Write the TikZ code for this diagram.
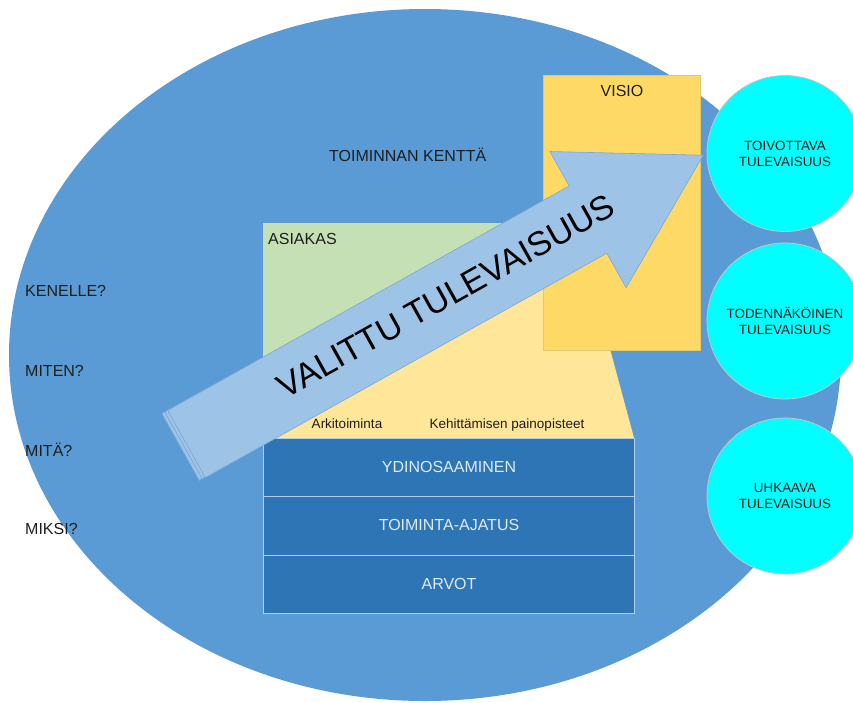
\documentclass[tikz,border=0pt]{standalone}
\usepackage{fontspec}
\setmainfont{Liberation Sans}
\definecolor{fieldblue}{HTML}{5B9BD5}
\definecolor{asiakasgreen}{HTML}{C5E0B4}
\definecolor{lightyel}{HTML}{FFE699}
\definecolor{visioyel}{HTML}{FFD966}
\definecolor{blockblue}{HTML}{2E75B6}
\definecolor{arrowblue}{HTML}{9DC3E6}
\definecolor{arrowedge}{HTML}{7AA6D6}
\definecolor{futurecyan}{HTML}{00FFFF}
\definecolor{darktext}{HTML}{1E1E1E}
\definecolor{blocktext}{HTML}{DDEBF7}
\begin{document}
\begin{tikzpicture}[x=1pt,y=-1pt,
  lbl/.style={font=\fontsize{16}{19}\selectfont, text=darktext, inner sep=0pt},
  smalllbl/.style={font=\fontsize{13.5}{16}\selectfont, text=darktext, inner sep=0pt},
  blocklbl/.style={font=\fontsize{16}{19}\selectfont, text=blocktext, inner sep=0pt, anchor=base},
  futurecircle/.style={circle, fill=futurecyan, draw=gray!45, line width=0.8pt,
     minimum size=156pt, inner sep=0pt, align=center,
     font=\fontsize{13.4}{16}\selectfont, text=darktext},
  blockrow/.style={fill=blockblue, draw=arrowblue!80, line width=1pt},
  arrowshape/.style={fill=arrowblue, draw=arrowedge, line width=0.6pt, line join=miter}
]
\useasboundingbox (0,0) rectangle (853,702);

% field ellipse
\fill[fieldblue] (425,355) ellipse [x radius=416, y radius=346];
\node[lbl, anchor=base west] (field) at (329,161) {TOIMINNAN KENTTÄ};

% left questions
\node[lbl, anchor=base west] (q1) at (25,296) {KENELLE?};
\node[lbl, anchor=base west] (q2) at (25,376) {MITEN?};
\node[lbl, anchor=base west] (q3) at (25,456) {MITÄ?};
\node[lbl, anchor=base west] (q4) at (25,534) {MIKSI?};

% light yellow trapezoid
\fill[lightyel] (263,223) -- (576,223) -- (634,438) -- (263,438) -- cycle;
% asiakas (lower edge hidden under the arrow)
\fill[asiakasgreen] (263,223) -- (502,223) -- (502,250) -- (263,400) -- cycle;
\node[lbl, anchor=base west] (asiakas) at (268,244) {ASIAKAS};

% visio
\fill[visioyel, draw=visioyel!80!gray, line width=0.5pt] (543,75) rectangle (700,350);
\node[lbl, anchor=base] (visio) at (622,96) {VISIO};

% bottom blocks
\draw[blockrow] (263,438) rectangle (634,496);
\draw[blockrow] (263,496) rectangle (634,555);
\draw[blockrow] (263,555) rectangle (634,613);
\node[blocklbl] (ydin) at (449,472) {YDINOSAAMINEN};
\node[blocklbl] (toim) at (449,530) {TOIMINTA-AJATUS};
\node[blocklbl] (arvot) at (449,589) {ARVOT};

% small labels
\node[smalllbl, anchor=base] (arki) at (347,428) {Arkitoiminta};
\node[smalllbl, anchor=base] (kehit) at (507,428) {Kehittämisen painopisteet};

% arrow: stacked tail copies
\foreach \s in {2,1}{
  \draw[arrowshape, shift={(-2.9*\s,1.6*\s)}]
    (167.7,410.4) -- (211.3,386.0) -- (249.0,421.2) -- (205.3,477.6) -- cycle;
}
% main arrow
\draw[arrowshape] (167.7,410.4) -- (569.2,186.0) -- (549.9,151.5) -- (703.3,155.2)
   -- (626.1,287.7) -- (606.8,253.2) -- (205.3,477.6) -- cycle;
\node[font=\fontsize{34}{38}\selectfont, text=black, inner sep=0pt, rotate=29.2]
   (valittu) at (446,296) {VALITTU TULEVAISUUS};

% future circles
\node[futurecircle] (toivottava) at (785,153.5) {TOIVOTTAVA\\TULEVAISUUS};
\node[futurecircle] (todennak) at (785,321) {TODENNÄKÖINEN\\TULEVAISUUS};
\node[futurecircle] (uhkaava) at (785,496) {UHKAAVA\\TULEVAISUUS};
\end{tikzpicture}
\end{document}
